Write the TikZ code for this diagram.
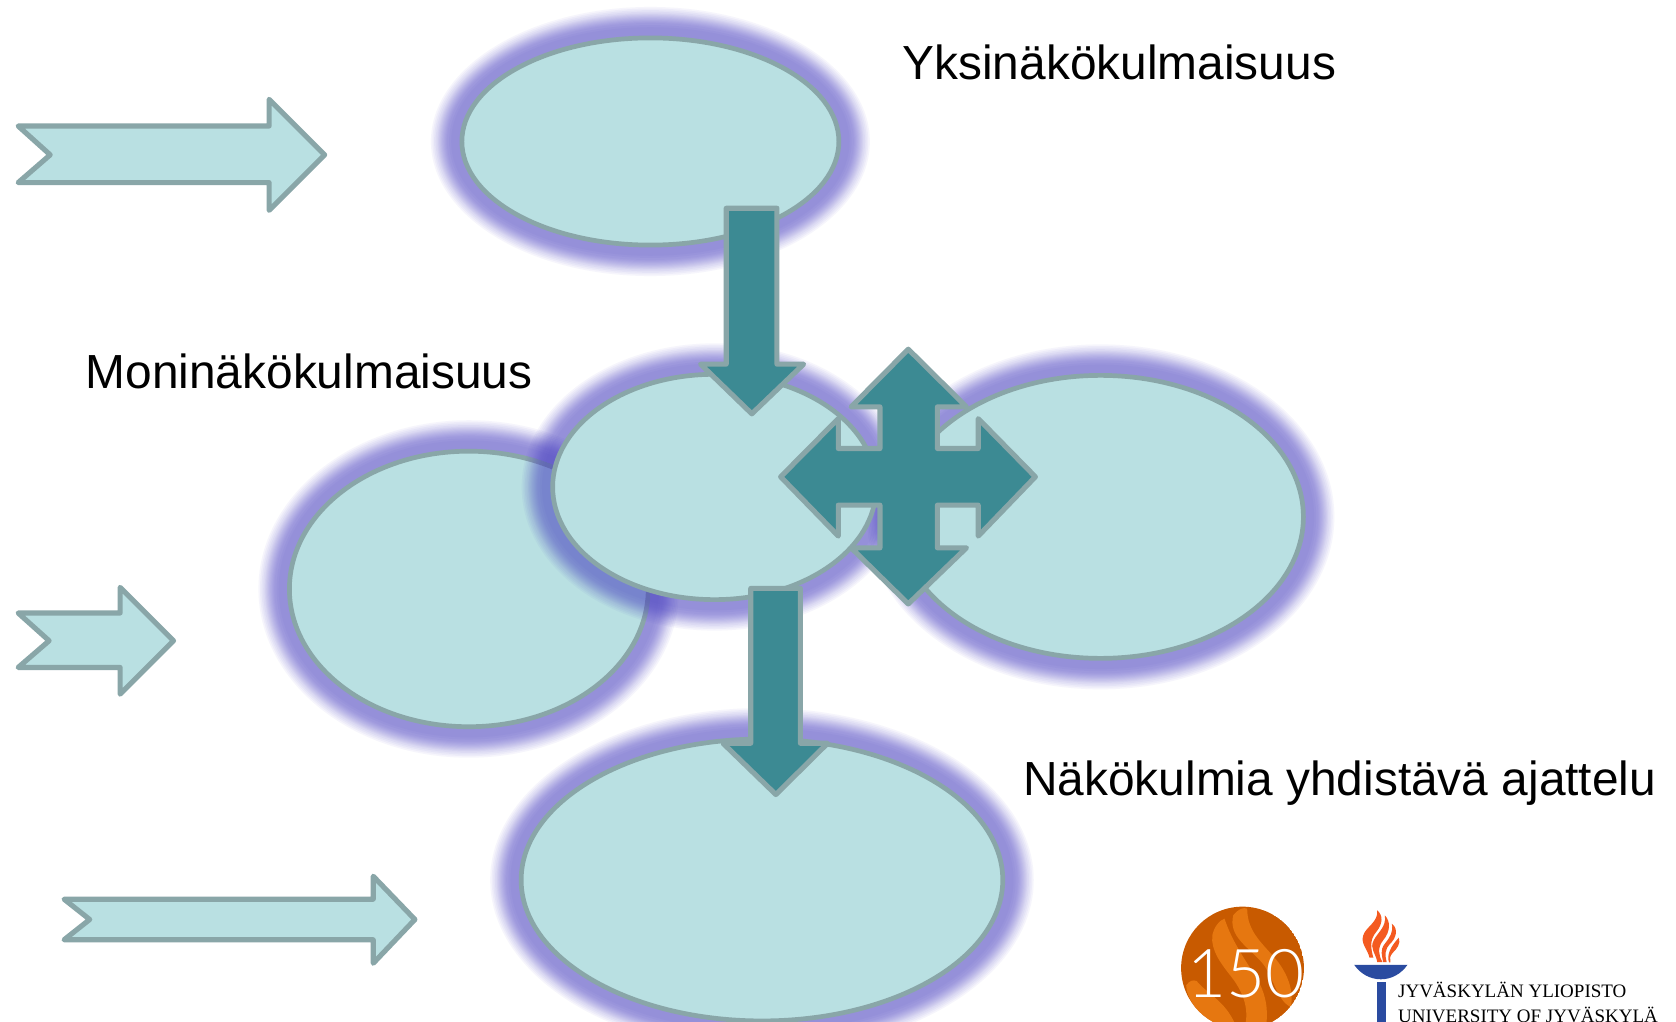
\documentclass[tikz,border=0pt]{standalone}
\usepackage{fontspec}
\setmainfont{Liberation Sans}
\newfontfamily\logofont{Liberation Serif}
\newfontfamily\numfont{Lato Light}
\usetikzlibrary{shapes.geometric}
\definecolor{ellfill}{HTML}{B9E0E2}
\definecolor{edge}{HTML}{89A6A8}
\definecolor{teal}{HTML}{3C8A93}
\definecolor{glowc}{HTML}{4F46C6}
\definecolor{discc}{HTML}{C85A00}
\definecolor{swirl}{HTML}{EE7F14}
\definecolor{flame}{HTML}{F45A20}
\definecolor{torch}{HTML}{2A4BA0}
\tikzset{
  ell/.style={ellipse,draw=edge,fill=ellfill,line width=4.4pt,inner sep=0pt},
  glowlayer/.style={fill=glowc,fill opacity=0.05},
  lightarrow/.style={draw=edge,fill=ellfill,line width=4.8pt,line join=round},
  darkarrow/.style={draw=edge,fill=teal,line width=4.8pt,line join=round},
  label/.style={anchor=base west,inner sep=0pt,font=\fontsize{44.8}{50}\selectfont,text=black},
  logotext/.style={anchor=base west,inner sep=0pt,font=\logofont\fontsize{17.8}{20}\selectfont,text=black}
}
\newcommand{\glowell}[5]{%
  \foreach \r in {29,27.5,26,24.5,23,22,21,20,19,18,17,16,15,14,12,10}{%
    \fill[glowlayer] (#2,#3) ellipse [x radius=(#4+\r)*1pt,y radius=(#5+\r)*1pt];
  }%
  \node[ell,minimum width=#4*2pt,minimum height=#5*2pt] (#1) at (#2,#3) {};
}
\begin{document}
\begin{tikzpicture}[x=1pt,y=-1pt]
\path[use as bounding box] (0,0) rectangle (1569.4,957);
\clip (0,0) rectangle (1569.4,957);
\fill[white] (0,0) rectangle (1569.4,957);
% ellipses with their glows
\glowell{topell}{609}{132.5}{176.5}{97}
\glowell{leftell}{439}{551.5}{168}{129}
\glowell{rightell}{1030.5}{484}{190}{132.5}
\glowell{midell}{669}{456}{151.5}{105.5}
\glowell{botell}{713.5}{824}{225.5}{132}
% light arrows
\draw[lightarrow] (17,118) -- (47,145) -- (17,171) -- (252,171) -- (252,197) -- (304,145) -- (252,93) -- (252,118) -- cycle;
\draw[lightarrow] (17,574) -- (46,600) -- (17,625) -- (112.5,625) -- (112.5,650) -- (162.5,600) -- (112.5,550) -- (112.5,574) -- cycle;
\draw[lightarrow] (60,842) -- (84,861) -- (60,880) -- (349.5,880) -- (349.5,902) -- (388.5,861) -- (349.5,820.5) -- (349.5,842) -- cycle;
% dark arrows
\draw[darkarrow] (680,195) -- (727.5,195) -- (727.5,341) -- (752.5,341) -- (704,387.5) -- (656,341) -- (680,341) -- cycle;
\draw[darkarrow] (703,551) -- (749.5,551) -- (749.5,696) -- (775,696) -- (726.5,744) -- (677,696) -- (703,696) -- cycle;
\draw[darkarrow] (824,420) -- (824,381) -- (797,381) -- (850.5,327) -- (905,381) -- (877.8,381) -- (877.8,420) -- (916,420) -- (916,392) -- (969.5,446.5) -- (916,502) -- (916,473) -- (877.8,473) -- (877.8,513) -- (905,513) -- (850.5,565.5) -- (797,513) -- (824,513) -- (824,473) -- (785,473) -- (785,502) -- (731,446.5) -- (785,392) -- (785,420) -- cycle;
% labels
\node[label] (lab1) at (845,74.5) {Yksinäkökulmaisuus};
\node[label] (lab2) at (80,364) {Moninäkökulmaisuus};
\node[label] (lab3) at (958,745) {Näkökulmia yhdistävä ajattelu};
% anniversary disc
\begin{scope}
\clip (1163.5,906.5) circle (57.5pt);
\fill[discc] (1163.5,906.5) circle (57.5pt);
\begin{scope}[shift={(1058.5,805.6)},x=0.3264pt,y=-0.3122pt,fill opacity=0.8]
\fill[swirl] (295,165) .. controls (310,145) and (325,140) .. (335,145) .. controls (335,215) and (380,250) .. (420,300) .. controls (450,340) and (470,390) .. (460,440) .. controls (420,420) and (410,350) .. (380,310) .. controls (340,260) and (280,230) .. (295,165) -- cycle;
\fill[swirl] (235,225) .. controls (240,200) and (255,180) .. (270,175) .. controls (290,240) and (330,300) .. (360,350) .. controls (390,400) and (395,450) .. (390,490) -- (330,490) .. controls (340,440) and (320,390) .. (290,350) .. controls (260,310) and (230,270) .. (235,225) -- cycle;
\fill[swirl] (160,375) .. controls (170,360) and (180,358) .. (190,362) .. controls (220,400) and (270,420) .. (300,490) -- (215,490) .. controls (200,450) and (160,420) .. (160,375) -- cycle;
\end{scope}
\node[anchor=base,inner sep=0pt,text=white,font=\numfont\fontsize{63}{66}\selectfont] (num) at (1166.5,934) {150};
\end{scope}
% torch
\begin{scope}[shift={(1058.5,805.6)},x=0.3264pt,y=-0.3122pt]
\fill[flame] (686,292) .. controls (680,265) and (660,250) .. (668,225) .. controls (675,200) and (712,185) .. (708,150) .. controls (725,165) and (725,190) .. (705,215) .. controls (685,240) and (690,265) .. (697,292) -- cycle;
\fill[flame] (708,305) .. controls (705,280) and (685,265) .. (698,240) .. controls (710,215) and (735,200) .. (730,165) .. controls (748,185) and (745,215) .. (725,240) .. controls (708,262) and (712,285) .. (723,305) -- cycle;
\fill[flame] (725,305) .. controls (722,285) and (715,270) .. (730,250) .. controls (745,230) and (755,215) .. (750,190) .. controls (770,205) and (762,235) .. (745,250) .. controls (730,265) and (730,285) .. (735,305) -- cycle;
\fill[flame] (742,306) .. controls (735,285) and (745,260) .. (770,232) .. controls (776,250) and (765,265) .. (752,278) .. controls (744,287) and (744,297) .. (746,306) -- cycle;
\end{scope}
\fill[torch] (1268,903.4) -- (1318,903.4) .. controls (1312,912) and (1303,917) .. (1293,917) .. controls (1283,917) and (1274,912) .. (1268,903.4) -- cycle;
\fill[torch] (1289,919.6) rectangle (1297.8,960);
\node[logotext] (logo1) at (1309,934) {JYVÄSKYLÄN YLIOPISTO};
\node[logotext] (logo2) at (1309,957) {UNIVERSITY OF JYVÄSKYLÄ};
\end{tikzpicture}
\end{document}
